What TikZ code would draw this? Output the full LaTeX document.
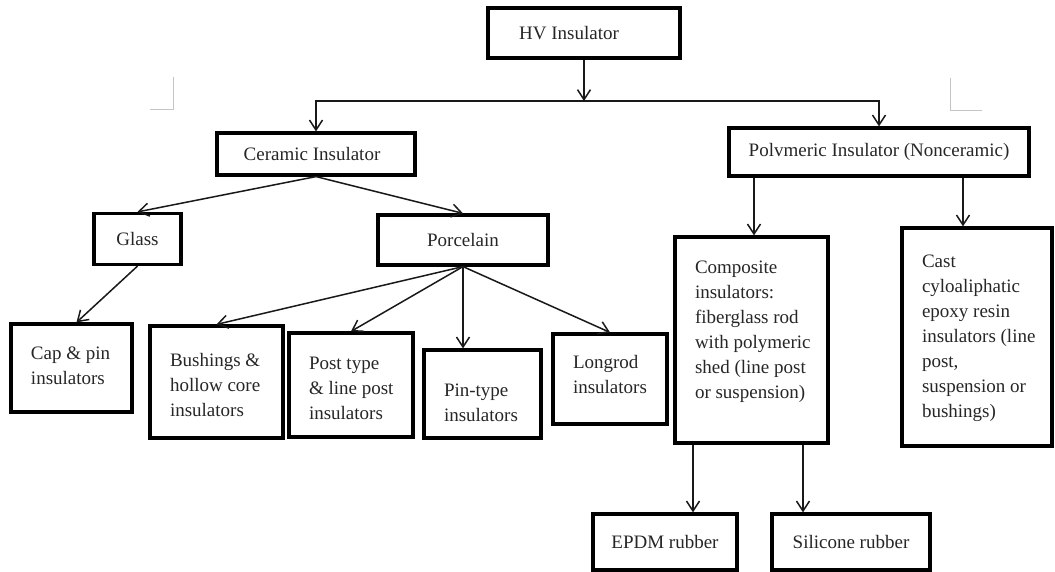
\documentclass[tikz,border=0pt]{standalone}
\usepackage{fontspec}
\setmainfont{Liberation Serif}
\usetikzlibrary{arrows.meta}

\definecolor{inkgray}{HTML}{262626}
\definecolor{markgray}{HTML}{C4C4C4}

% text block in a tall box: [top gap]{height}{width}{lines}
\newcommand{\cell}[4][18.5pt]{\parbox[c][#2][t]{#3}{\raggedright\leftskip=20pt\vspace*{#1}\strut #4}}

\tikzset{
  box/.style={draw=black, line width=3.2pt, inner sep=0pt, text=inkgray},
  onebox/.style 2 args={box, minimum width=#1, minimum height=#2},
  arr/.style={draw=black!90, line width=1.5pt, -{Straight Barb[length=10pt,width=13pt]}}
}

\begin{document}
\begin{tikzpicture}[x=1pt, y=-1pt, every node/.style={font=\fontsize{19}{25}\selectfont}]
    \useasboundingbox (0,0) rectangle (1055,572);

    \node[onebox={192pt}{50pt}] (hv) at (584,33) {HV Insulator\kern30pt};

    \node[onebox={198pt}{42pt}] (ceramic) at (316,154) {Ceramic Insulator\kern8pt};
    \node[onebox={300pt}{48pt}] (polymeric) at (879,152) {Polvmeric Insulator (Nonceramic)};

    \node[onebox={87pt}{51pt}] (glass) at (137.5,239) {Glass};
    \node[onebox={170pt}{50pt}] (porcelain) at (463,240) {Porcelain};

    \node[box] (cap) at (71.5,368) {\cell[17.5pt]{88pt}{121pt}{Cap \& pin\\insulators}};
    \node[box] (bushings) at (216.5,382) {\cell[22.5pt]{112pt}{133pt}{Bushings \&\\hollow core\\insulators}};
    \node[box] (post) at (351,385) {\cell{104pt}{124pt}{Post type\\\& line post\\insulators}};
    \node[box] (pin) at (482.5,394) {\cell[28.5pt]{88pt}{117pt}{Pin-type\\insulators}};
    \node[box] (longrod) at (610,379) {\cell[16.5pt]{90pt}{114pt}{Longrod\\insulators}};

    \node[box] (composite) at (751.5,340) {\cell{206pt}{153pt}{Composite\\insulators:\\fiberglass rod\\with polymeric\\shed (line post\\or suspension)}};
    \node[box] (cast) at (977,337) {\cell[21.5pt]{218pt}{150pt}{Cast\\cyloaliphatic\\epoxy resin\\insulators (line\\post,\\suspension or\\bushings)}};

    \node[onebox={144pt}{56pt}] (epdm) at (665,542) {EPDM rubber};
    \node[onebox={158pt}{56pt}] (silicone) at (851,542) {Silicone rubber};

    % page corner marks
    \draw[markgray, line width=1pt] (150,110) -- (173,110) -- (173,77);
    \draw[markgray, line width=1pt] (950,78) -- (950,111) -- (982,111);

    \coordinate (split) at (584,101);
    \draw[arr] (hv.south) -- (split);
    \draw[arr] (split) -| (ceramic.north);
    \draw[arr] (split) -| (polymeric.north);

    \draw[arr] (ceramic.south) -- (glass.north);
    \draw[arr] (ceramic.south) -- (porcelain.north);
    \draw[arr] (glass.south) -- ([xshift=5pt]cap.north);

    \draw[arr] (porcelain.south) -- (bushings.north);
    \draw[arr] (porcelain.south) -- (post.north);
    \draw[arr] (porcelain.south) -- (porcelain.south |- pin.north);
    \draw[arr] (porcelain.south) -- (longrod.north);

    \coordinate (pleft) at ([xshift=-125pt]polymeric.south);
    \coordinate (pright) at ([xshift=84pt]polymeric.south);
    \draw[arr] (pleft) -- (pleft |- composite.north);
    \draw[arr] (pright) -- (pright |- cast.north);

    \coordinate (cleft) at ([xshift=-58.5pt]composite.south);
    \coordinate (cright) at ([xshift=51.5pt]composite.south);
    \draw[arr] (cleft) -- (cleft |- epdm.north);
    \draw[arr] (cright) -- (cright |- silicone.north);

\end{tikzpicture}
\end{document}
